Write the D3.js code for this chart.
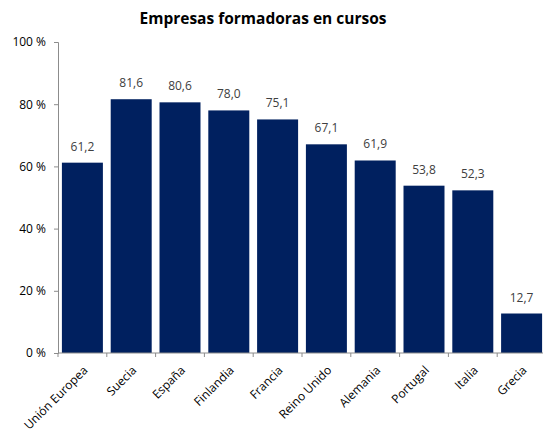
<!doctype html>
<html>
<meta charset="utf-8">
<head>
<script src="https://cdn.jsdelivr.net/npm/d3@7"></script>
<style>
  body { margin: 0; background: #fff; }
  text { font-family: "Open Sans", "Noto Sans", sans-serif; }
</style>
</head>
<body>
<script>
// data
var paises = ["Unión Europea", "Suecia", "España", "Finlandia", "Francia",
              "Reino Unido", "Alemania", "Portugal", "Italia", "Grecia"];
var valores = [61.2, 81.6, 80.6, 78.0, 75.1, 67.1, 61.9, 53.8, 52.3, 12.7];
var yTicks = [0, 20, 40, 60, 80, 100];

var width = 543, height = 434;
var margin = {top: 42, right: -3, bottom: 81, left: 58};

var svg = d3.select("body").append("svg")
  .attr("width", width)
  .attr("height", height);

var x = d3.scaleBand()
  .domain(paises)
  .range([margin.left, width - margin.right])
  .paddingInner(0.16)
  .paddingOuter(0.08);

var y = d3.scaleLinear()
  .domain([0, 100])
  .range([height - margin.bottom, margin.top]);

svg.append("text")
  .attr("x", 263)
  .attr("y", 24)
  .attr("text-anchor", "middle")
  .style("font-weight", "bold")
  .style("font-size", "15.5px")
  .attr("fill", "#000")
  .text("Empresas formadoras en cursos");

// bars
svg.append("g").selectAll("rect")
  .data(valores)
  .enter().append("rect")
  .attr("x", function(d, i) { return x(paises[i]); })
  .attr("y", function(d) { return y(d); })
  .attr("width", x.bandwidth())
  .attr("height", function(d) { return y(0) - y(d); })
  .attr("fill", "#00205f");

// value labels
svg.append("g").selectAll("text")
  .data(valores)
  .enter().append("text")
  .attr("x", function(d, i) { return x(paises[i]) + x.bandwidth() / 2; })
  .attr("y", function(d) { return y(d) - 12; })
  .attr("text-anchor", "middle")
  .style("font-size", "12px")
  .attr("fill", "#404040")
  .text(function(d) { return d.toFixed(1).replace(".", ","); });

// y axis
var yAxis = svg.append("g")
  .attr("transform", "translate(" + margin.left + ",0)")
  .call(d3.axisLeft(y).tickValues(yTicks).tickSize(4).tickPadding(8)
    .tickFormat(function(d) { return d + " %"; }));
yAxis.select(".domain").attr("stroke", "#8c8c8c");
yAxis.selectAll(".tick line").attr("stroke", "#8c8c8c");
yAxis.selectAll(".tick text")
  .style("font-size", "12px")
  .style("font-family", "'Open Sans', sans-serif")
  .attr("fill", "#000");

// x axis, ticks between categories
var step = x.step();
var xAxis = svg.append("g")
  .attr("transform", "translate(0," + y(0) + ")");
xAxis.append("line")
  .attr("x1", margin.left).attr("x2", width)
  .attr("stroke", "#8c8c8c");
xAxis.selectAll("line.tk")
  .data(d3.range(paises.length + 1))
  .enter().append("line")
  .attr("class", "tk")
  .attr("x1", function(i) { return margin.left + i * step; })
  .attr("x2", function(i) { return margin.left + i * step; })
  .attr("y1", 0).attr("y2", 4)
  .attr("stroke", "#8c8c8c");
xAxis.selectAll("text")
  .data(paises)
  .enter().append("text")
  .attr("transform", function(d) {
    return "translate(" + (x(d) + x.bandwidth() / 2 + 3) + ",15) rotate(-45)";
  })
  .attr("text-anchor", "end")
  .attr("dy", "0.35em")
  .style("font-size", "12px")
  .attr("fill", "#000")
  .text(function(d) { return d; });
</script>
</body>
</html>
